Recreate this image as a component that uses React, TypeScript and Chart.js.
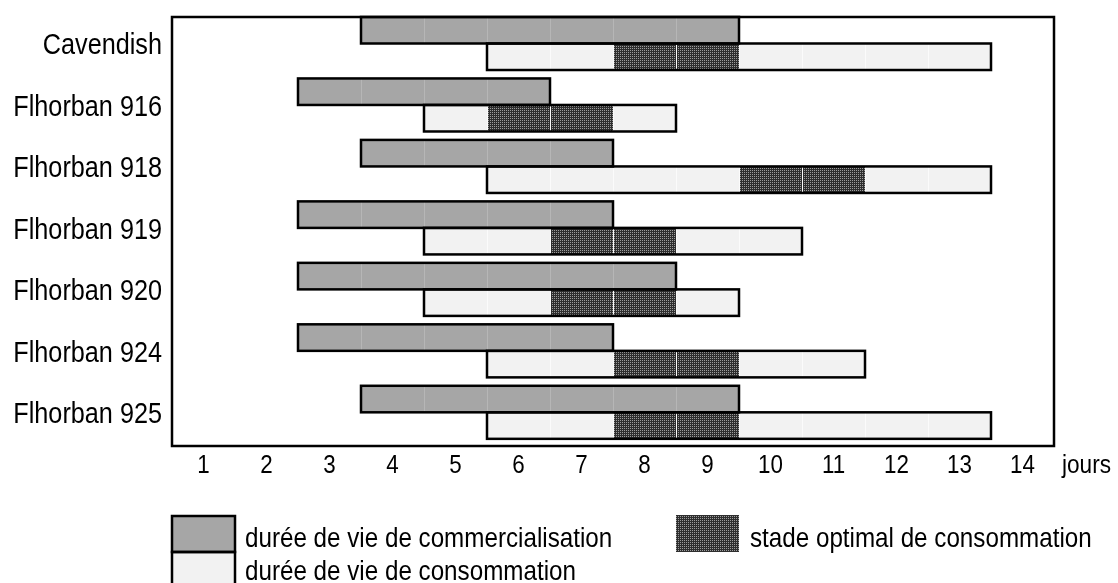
import React, { useEffect, useRef } from 'react';
import { Chart, registerables } from 'chart.js';

Chart.register(...registerables);

const categories = ['Cavendish', 'Flhorban 916', 'Flhorban 918', 'Flhorban 919', 'Flhorban 920', 'Flhorban 924', 'Flhorban 925'];
const commercialStart = [3.5, 2.5, 3.5, 2.5, 2.5, 2.5, 3.5];
const commercialEnd = [9.5, 6.5, 7.5, 7.5, 8.5, 7.5, 9.5];
const consumptionStart = [5.5, 4.5, 5.5, 4.5, 4.5, 5.5, 5.5];
const consumptionEnd = [13.5, 8.5, 13.5, 10.5, 9.5, 11.5, 13.5];
const optimalStart = [7.5, 5.5, 9.5, 6.5, 6.5, 7.5, 7.5];
const optimalEnd = [9.5, 7.5, 11.5, 8.5, 8.5, 9.5, 9.5];
const dayTicks = [1, 2, 3, 4, 5, 6, 7, 8, 9, 10, 11, 12, 13, 14];
const axisUnit = 'jours';
const legendCommercial = 'durée de vie de commercialisation';
const legendConsumption = 'durée de vie de consommation';
const legendOptimal = 'stade optimal de consommation';

const FONT = '"Liberation Sans", Arial, sans-serif';
const GRAY = '#a6a6a6';
const LIGHT = '#f2f2f2';

function makePattern(): CanvasPattern | string {
  const c = document.createElement('canvas');
  c.width = 2;
  c.height = 2;
  const g = c.getContext('2d');
  if (!g) return '#444';
  g.fillStyle = '#2e2e2e';
  g.fillRect(0, 0, 2, 2);
  g.fillStyle = '#9c9c9c';
  g.fillRect(0, 0, 1, 1);
  const p = g.createPattern(c, 'repeat');
  return p || '#444';
}

// narrow text: regular sans squeezed horizontally (Arial Narrow look)
function narrowText(ctx: CanvasRenderingContext2D, text: string, x: number, y: number, size: number, sx: number, align: CanvasTextAlign) {
  ctx.save();
  ctx.font = `${size}px ${FONT}`;
  ctx.textBaseline = 'alphabetic';
  ctx.textAlign = align;
  ctx.fillStyle = '#000';
  ctx.translate(x, y);
  ctx.scale(sx, 1);
  ctx.fillText(text, 0, 0);
  ctx.restore();
}

export default function App() {
  const ref = useRef<HTMLCanvasElement | null>(null);

  useEffect(() => {
    const canvas = ref.current;
    if (!canvas) return;
    const pattern = makePattern();

    const toPoints = (s: number[], e: number[]) => s.map((v, i) => ({ x: [v, e[i]], y: i }));

    const overlay = {
      id: 'overlay',
      afterDatasetsDraw(chart: any) {
        const ctx = chart.ctx;
        const xs = chart.scales.x;
        const lineColors = ['#b6b6b6', 'rgba(255,255,255,0.18)', '#fbfbfb'];
        ctx.save();
        // faint day separators inside bars
        chart.data.datasets.forEach((ds: any, di: number) => {
          const meta = chart.getDatasetMeta(di);
          meta.data.forEach((el: any, i: number) => {
            const p = el.getProps(['x', 'y', 'base', 'height'], true);
            const [a, b] = ds.data[i].x;
            const top = p.y - p.height / 2;
            ctx.strokeStyle = lineColors[di];
            ctx.lineWidth = 1;
            for (let v = a + 1; v < b; v += 1) {
              const px = Math.round(xs.getPixelForValue(v)) + 0.5;
              ctx.beginPath();
              ctx.moveTo(px, top);
              ctx.lineTo(px, top + p.height);
              ctx.stroke();
            }
          });
        });
        // outlines
        [0, 2].forEach((di) => {
          const meta = chart.getDatasetMeta(di);
          meta.data.forEach((el: any) => {
            const p = el.getProps(['x', 'y', 'base', 'height'], true);
            const left = Math.min(p.x, p.base);
            const w = Math.abs(p.x - p.base);
            ctx.strokeStyle = '#000';
            ctx.lineWidth = 2.5;
            ctx.strokeRect(left, p.y - p.height / 2, w, p.height);
          });
        });
        // frame
        const a = chart.chartArea;
        ctx.lineWidth = 2.5;
        ctx.strokeStyle = '#000';
        ctx.strokeRect(a.left, a.top, a.right - a.left, a.bottom - a.top);
        ctx.restore();
      },
      afterDraw(chart: any) {
        const ctx = chart.ctx;
        const xs = chart.scales.x;
        const ys = chart.scales.y;
        const a = chart.chartArea;
        // category labels
        categories.forEach((c, i) => {
          narrowText(ctx, c, a.left - 10, ys.getPixelForValue(i) + 11, 29, 0.87, 'right');
        });
        // day ticks
        xs.ticks.forEach((t: any) => {
          narrowText(ctx, String(t.value), xs.getPixelForValue(t.value), 473, 26, 0.86, 'center');
        });
        narrowText(ctx, axisUnit, 1062, 473, 26, 0.87, 'left');
        // legend
        ctx.save();
        ctx.fillStyle = GRAY;
        ctx.fillRect(172, 516, 63, 36);
        ctx.fillStyle = LIGHT;
        ctx.fillRect(172, 552, 63, 40);
        ctx.strokeStyle = '#000';
        ctx.lineWidth = 2.5;
        ctx.strokeRect(172, 516, 63, 36);
        ctx.strokeRect(172, 552, 63, 40);
        ctx.fillStyle = pattern as any;
        ctx.fillRect(676, 515, 63, 37);
        ctx.restore();
        narrowText(ctx, legendCommercial, 245, 547, 27.5, 0.88, 'left');
        narrowText(ctx, legendConsumption, 245, 580, 27.5, 0.88, 'left');
        narrowText(ctx, legendOptimal, 750, 547, 27.5, 0.88, 'left');
      },
    };

    const chart = new Chart(canvas, {
      type: 'bar',
      data: {
        datasets: [
          {
            label: legendCommercial,
            data: toPoints(commercialStart, commercialEnd) as any,
            backgroundColor: GRAY,
            borderWidth: 0,
            stack: 'a',
          },
          {
            label: legendOptimal,
            data: toPoints(optimalStart, optimalEnd) as any,
            backgroundColor: pattern as any,
            borderWidth: 0,
            stack: 'b',
          },
          {
            label: legendConsumption,
            data: toPoints(consumptionStart, consumptionEnd) as any,
            backgroundColor: LIGHT,
            borderWidth: 0,
            stack: 'b',
          },
        ],
      },
      options: {
        indexAxis: 'y',
        responsive: false,
        animation: false,
        events: [],
        layout: { padding: { left: 0, right: 64, top: 17, bottom: 0 } },
        datasets: { bar: { barPercentage: 1, categoryPercentage: 0.863, grouped: true } },
        plugins: { legend: { display: false }, tooltip: { enabled: false }, title: { display: false } },
        scales: {
          x: {
            type: 'linear',
            min: 0.5,
            max: 14.5,
            offset: false,
            stacked: false,
            grid: { display: false, drawTicks: false },
            border: { display: false },
            afterBuildTicks: (s: any) => {
              s.ticks = dayTicks.map((v) => ({ value: v }));
            },
            afterFit: (s: any) => {
              s.height = 137;
            },
            ticks: { display: false },
          },
          y: {
            type: 'linear',
            reverse: true,
            offset: false,
            min: -0.431,
            max: 6.548,
            grid: { display: false, drawTicks: false },
            border: { display: false },
            afterBuildTicks: (s: any) => {
              s.ticks = categories.map((_, i) => ({ value: i }));
            },
            afterFit: (s: any) => {
              s.width = 172;
            },
            ticks: { display: false },
          },
        },
      },
      plugins: [overlay],
    });

    return () => chart.destroy();
  }, []);

  return (
    <div style={{ position: 'absolute', left: 0, top: 0, width: 1118, height: 583, background: '#fff' }}>
      <canvas ref={ref} width={1118} height={583} style={{ display: 'block', width: 1118, height: 583 }} />
    </div>
  );
}
